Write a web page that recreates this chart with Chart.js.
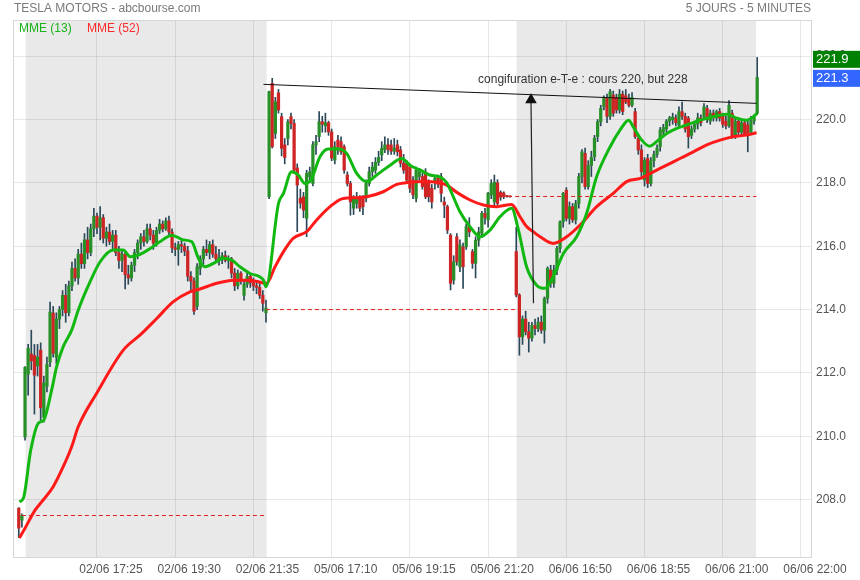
<!DOCTYPE html>
<html>
<head>
<meta charset="utf-8">
<script src="https://cdn.jsdelivr.net/npm/chart.js@4.4.0/dist/chart.umd.min.js"></script>
<style>
  html, body { margin: 0; padding: 0; background: #fff; }
  canvas { display: block; }
</style>
</head>
<body>
<canvas id="chart" width="860" height="580"></canvas>
<script>
// bar numbers: 0 = first 5 min bar of 02/06, one bar per 5 minutes
const tickBars = [23, 48, 73, 98, 123, 148, 173, 198, 223, 248];
const tickLabels = ['02/06 17:25', '02/06 19:30', '02/06 21:35', '05/06 17:10', '05/06 19:15',
                    '05/06 21:20', '06/06 16:50', '06/06 18:55', '06/06 21:00', '06/06 22:00'];
const yTicks = [208, 210, 212, 214, 216, 218, 220, 222];

// first bar number of each block of candles
const sessionStart = [-2, 0, 78, 157];

// candles: [open, high, low, close]
const prevDay = [
  [207.73, 207.75, 206.80, 207.10], [207.35, 207.55, 207.13, 207.50]
];
const day1 = [
  [209.98, 212.20, 209.88, 212.18], [211.96, 212.90, 211.30, 212.78], [212.60, 213.35, 212.10, 212.38],
  [212.55, 212.90, 210.70, 211.93], [212.22, 212.90, 211.90, 212.50], [212.72, 212.95, 210.50, 210.90],
  [210.60, 211.90, 210.45, 211.68], [211.58, 212.50, 211.40, 212.28], [212.34, 214.24, 212.20, 213.92],
  [213.89, 214.10, 212.50, 212.62], [212.50, 213.90, 212.30, 213.70], [213.70, 214.10, 213.40, 214.00],
  [214.00, 214.60, 213.80, 214.45], [214.45, 214.80, 213.60, 213.90], [213.90, 214.90, 213.80, 214.75],
  [214.75, 215.50, 214.60, 215.30], [215.30, 215.60, 214.90, 215.00], [215.00, 215.90, 214.80, 215.75],
  [215.75, 216.10, 215.30, 215.45], [215.45, 216.40, 215.30, 216.20], [216.20, 216.60, 215.60, 215.80],
  [215.80, 216.70, 215.70, 216.55], [216.55, 217.20, 216.30, 216.95], [216.95, 217.05, 216.40, 216.60],
  [216.60, 217.25, 216.20, 216.90], [216.90, 217.00, 216.10, 216.25], [216.25, 216.60, 216.00, 216.45],
  [216.45, 216.70, 216.05, 216.15], [216.15, 216.50, 215.90, 216.35], [216.35, 216.50, 215.70, 215.80],
  [215.80, 216.00, 215.30, 215.55], [215.55, 215.90, 215.20, 215.75], [215.75, 215.85, 214.65, 215.10],
  [215.10, 215.40, 214.80, 215.00], [215.00, 215.50, 214.90, 215.40], [215.40, 215.90, 215.20, 215.80],
  [215.80, 216.20, 215.60, 216.10], [216.10, 216.40, 215.90, 216.30], [216.30, 216.50, 216.00, 216.15],
  [216.15, 216.70, 216.10, 216.55], [216.55, 216.70, 216.20, 216.35], [216.35, 216.50, 215.90, 216.10],
  [216.10, 216.60, 216.00, 216.50], [216.50, 216.85, 216.40, 216.70], [216.70, 216.80, 216.45, 216.55],
  [216.55, 216.90, 216.50, 216.80], [216.80, 216.95, 216.30, 216.45], [216.45, 216.55, 215.80, 215.95],
  [215.95, 216.10, 215.70, 215.90], [215.90, 216.15, 215.40, 216.05], [216.05, 216.20, 215.80, 216.00],
  [216.00, 216.10, 215.70, 215.85], [215.85, 216.00, 214.90, 215.05], [215.05, 215.20, 214.60, 214.90],
  [214.90, 215.00, 213.85, 213.95], [214.10, 215.45, 214.00, 215.35], [215.30, 215.70, 215.10, 215.60],
  [215.60, 216.00, 215.40, 215.90], [215.90, 216.20, 215.70, 215.80], [215.80, 216.15, 215.60, 216.05],
  [216.05, 216.20, 215.65, 215.75], [215.75, 216.00, 215.50, 215.60], [215.60, 215.90, 215.40, 215.65],
  [215.65, 215.80, 215.45, 215.70], [215.70, 215.85, 215.50, 215.55], [215.55, 215.70, 215.30, 215.60],
  [215.60, 215.65, 215.00, 215.15], [215.15, 215.30, 214.60, 214.75], [214.75, 215.25, 214.65, 215.15],
  [215.15, 215.20, 214.80, 214.90], [214.45, 214.90, 214.30, 214.80], [214.80, 215.20, 214.70, 215.05],
  [215.05, 215.15, 214.70, 214.85], [214.85, 215.00, 214.60, 214.75], [214.75, 214.90, 214.50, 214.70],
  [214.70, 214.85, 214.35, 214.45], [214.45, 214.60, 213.95, 214.20], [213.90, 214.30, 213.60, 214.05]
];
const day2 = [
  [217.56, 220.90, 217.50, 220.88], [221.14, 221.30, 219.10, 219.14], [219.56, 220.70, 219.40, 220.56],
  [220.84, 220.95, 220.20, 220.30], [220.09, 220.20, 218.85, 219.09], [219.20, 219.40, 218.60, 218.80],
  [219.40, 220.00, 219.20, 219.93], [220.09, 220.20, 219.70, 219.88], [219.88, 220.00, 218.30, 218.40],
  [218.47, 218.60, 216.46, 217.93], [217.52, 217.80, 217.20, 217.36], [217.56, 217.70, 216.90, 217.14],
  [216.88, 218.40, 216.30, 218.30], [218.20, 218.50, 218.00, 218.35], [217.98, 219.30, 217.90, 219.20],
  [219.20, 219.50, 218.90, 219.30], [219.46, 220.25, 219.30, 219.93], [219.93, 220.10, 219.60, 219.85],
  [219.80, 220.20, 219.60, 219.90], [219.90, 219.95, 219.50, 219.61], [219.61, 219.70, 218.70, 218.78],
  [218.72, 219.30, 218.60, 219.14], [219.35, 219.50, 218.90, 219.14], [219.30, 219.45, 218.90, 218.98],
  [219.14, 219.20, 218.30, 218.40], [218.25, 218.35, 217.90, 217.98], [217.98, 218.05, 216.98, 217.40],
  [217.20, 217.60, 217.00, 217.52], [217.35, 217.70, 217.20, 217.50], [217.52, 217.60, 217.10, 217.20],
  [217.50, 217.60, 217.00, 217.25], [217.52, 218.10, 217.40, 217.98], [217.98, 218.50, 217.90, 218.35],
  [218.35, 218.65, 218.20, 218.50], [218.40, 218.80, 218.30, 218.65], [218.65, 219.00, 218.55, 218.80],
  [218.88, 219.30, 218.70, 219.09], [219.05, 219.45, 218.95, 219.20], [219.20, 219.40, 218.90, 219.05],
  [219.20, 219.35, 218.90, 219.00], [219.00, 219.40, 218.90, 219.10], [219.20, 219.35, 218.85, 218.98],
  [219.04, 219.15, 218.50, 218.62], [218.62, 218.90, 218.30, 218.40], [218.62, 218.70, 218.00, 218.09],
  [218.51, 218.60, 217.70, 217.83], [218.09, 218.20, 217.50, 217.62], [217.51, 218.50, 217.40, 218.40],
  [218.20, 218.45, 218.10, 218.35], [218.20, 218.30, 217.80, 217.88], [218.35, 218.45, 217.50, 217.56],
  [218.00, 218.10, 217.40, 217.56], [217.83, 217.95, 217.20, 217.40], [218.05, 218.20, 217.80, 218.15],
  [218.15, 218.25, 217.85, 217.95], [218.20, 218.30, 217.40, 217.67], [217.40, 217.55, 216.90, 217.30],
  [217.25, 217.30, 216.40, 216.51], [216.35, 216.40, 214.62, 214.83], [214.93, 215.70, 214.80, 215.51],
  [216.30, 216.40, 215.40, 215.51], [215.35, 216.20, 215.20, 216.04], [215.98, 216.10, 214.67, 215.35],
  [215.98, 216.70, 215.90, 216.62], [216.62, 216.90, 216.30, 216.45], [215.83, 215.90, 215.30, 215.46],
  [215.46, 216.30, 215.00, 216.19], [216.19, 216.60, 216.00, 216.45], [216.41, 217.10, 216.30, 217.04],
  [217.04, 217.20, 216.70, 216.90], [216.83, 217.70, 216.60, 217.67], [217.62, 218.10, 217.50, 217.98],
  [217.40, 218.25, 217.30, 218.02], [218.00, 218.10, 217.30, 217.35], [217.70, 217.75, 217.45, 217.55],
  [217.68, 217.72, 217.50, 217.56], [217.58, 217.60, 217.55, 217.57], [217.57, 217.58, 217.55, 217.56]
];
const day3 = [
  [215.83, 216.60, 214.40, 214.46], [214.46, 214.50, 212.56, 213.14], [213.14, 213.80, 212.90, 213.70],
  [213.70, 213.95, 213.20, 213.30], [213.30, 213.60, 212.66, 213.10], [213.10, 213.60, 213.00, 213.50],
  [213.50, 213.70, 213.20, 213.40], [213.40, 213.75, 213.30, 213.60], [213.60, 213.80, 213.25, 213.35],
  [213.35, 214.40, 212.94, 214.35], [214.35, 215.35, 214.20, 215.30], [215.25, 215.40, 214.70, 214.83],
  [214.83, 215.40, 214.70, 215.25], [215.25, 216.00, 215.10, 215.93], [215.93, 216.80, 215.80, 216.77],
  [216.77, 217.70, 216.60, 217.67], [217.77, 217.85, 216.80, 216.88], [216.88, 217.40, 216.70, 217.25],
  [217.25, 217.35, 216.75, 216.83], [216.83, 217.45, 216.70, 217.35], [217.35, 218.30, 217.20, 218.20],
  [218.20, 219.05, 218.00, 218.98], [218.93, 219.10, 217.80, 217.88], [217.88, 218.70, 217.80, 218.55],
  [218.55, 219.00, 218.20, 218.80], [218.83, 219.50, 218.70, 219.41], [219.46, 220.00, 219.30, 219.93],
  [219.93, 220.45, 219.80, 220.35], [220.40, 220.75, 220.30, 220.67], [220.67, 220.80, 219.90, 220.10],
  [220.10, 220.95, 220.00, 220.88], [220.77, 220.90, 220.10, 220.20], [220.70, 220.80, 220.20, 220.30],
  [220.30, 220.95, 220.20, 220.80], [220.80, 220.90, 220.15, 220.25], [220.75, 220.95, 220.50, 220.55],
  [220.65, 220.80, 220.40, 220.45], [220.45, 220.85, 220.40, 220.70], [220.25, 220.35, 219.40, 219.46],
  [219.41, 219.50, 218.90, 219.04], [219.04, 219.20, 218.20, 218.35], [218.09, 218.80, 217.90, 218.72],
  [218.77, 218.90, 217.85, 217.98], [217.98, 218.80, 217.90, 218.70], [218.70, 219.00, 218.50, 218.90],
  [218.90, 219.20, 218.80, 219.10], [219.14, 219.75, 219.00, 219.67], [219.60, 219.85, 219.50, 219.75],
  [219.70, 220.00, 219.60, 219.95], [219.95, 220.10, 219.80, 220.05], [220.00, 220.20, 219.85, 220.08],
  [220.05, 220.15, 219.80, 219.90], [219.83, 220.40, 219.75, 220.25], [220.25, 220.55, 220.00, 220.10],
  [220.10, 220.20, 219.60, 219.70], [220.04, 220.10, 219.10, 219.46], [219.50, 219.80, 219.40, 219.70],
  [219.70, 219.95, 219.60, 219.85], [219.85, 220.20, 219.70, 220.05], [220.05, 220.15, 219.80, 219.90],
  [220.09, 220.50, 220.00, 220.40], [220.35, 220.45, 219.90, 220.00], [219.95, 220.30, 219.85, 220.20],
  [220.20, 220.30, 219.95, 220.05], [220.05, 220.30, 219.95, 220.25], [220.25, 220.35, 219.95, 220.05],
  [220.10, 220.20, 219.75, 219.85], [219.95, 220.10, 219.70, 219.80], [219.80, 220.60, 219.75, 220.45],
  [220.20, 220.30, 219.40, 219.45], [219.45, 220.05, 219.40, 219.95], [219.95, 220.05, 219.50, 219.60],
  [219.60, 220.00, 219.50, 219.90], [219.90, 220.00, 219.50, 219.55], [219.83, 219.95, 218.98, 219.56],
  [219.60, 220.10, 219.55, 219.95], [219.95, 220.15, 219.85, 220.09], [220.20, 221.96, 220.15, 221.33]
];

// shaded sessions (02/06 and 06/06), in bar numbers
const shadeFrom = [0.2, 157.1];
const shadeTo = [77.2, 233.6];

// previous close levels (dashed)
const refLevel = [207.5, 214.0, 217.57];
const refFrom = [-1, 77, 154.4];
const refTo = [77.2, 157.1, 233.8];

// moving averages
const mme13Bars = [-1.8, -0.5, 1.8, 4.3, 5.9, 8.5, 10.1, 12.2, 14.9, 17, 20.8, 24, 28.2, 31.4, 33.6, 36.2,
  40, 43.1, 46.9, 50.6, 53.3, 55.4, 57.5, 60.2, 63.4, 66.1, 68.7, 71.9, 76.2, 77, 81, 82.6, 85.2, 87.3,
  89.5, 91.6, 94.3, 96.9, 100.1, 102.8, 106, 109.2, 112.4, 116.7, 120.4, 123, 126.2, 129.4, 132.6, 134.8,
  136.4, 139, 142.2, 145.4, 148.6, 151.8, 155.5, 157.7, 160.3, 163.5, 166.2, 168.8, 172.1, 176.3, 179.5,
  182.7, 187, 190.2, 192.9, 194.4, 197.1, 199.7, 202.4, 205.1, 208.3, 211.5, 215.7, 220, 224.3, 227.5,
  230.6, 232.8, 233.9];
const mme13 = [207.93, 208.05, 209.55, 210.42, 210.5, 211.46, 212.2, 212.83, 213.35, 213.98, 214.88,
  215.51, 215.88, 215.88, 215.67, 215.72, 215.93, 216.14, 216.35, 216.2, 216.14, 215.62, 215.35, 215.46,
  215.62, 215.56, 215.35, 215.14, 214.93, 214.72, 217.35, 217.67, 218.35, 218.25, 217.98, 218.14, 218.83,
  219.07, 219.07, 218.93, 218.3, 218.04, 218.25, 218.56, 218.77, 218.56, 218.41, 218.25, 218.19, 218.0,
  217.67, 217.09, 216.62, 216.3, 216.51, 216.93, 217.2, 216.51, 215.35, 214.77, 214.67, 215.04, 215.78,
  216.3, 217.04, 218.2, 219.14, 219.67, 219.98, 219.77, 219.35, 219.16, 219.35, 219.56, 219.72, 219.83,
  219.98, 220.09, 220.17, 220.04, 219.98, 220.09, 220.2];
const mme52Bars = [-1.8, 0, 3.2, 5.8, 9, 12.2, 14.9, 17, 22.9, 31.4, 36.8, 42.1, 47.4, 52.7, 55.9, 61.3,
  66.6, 71.9, 77.2, 79.9, 82.6, 85.7, 90, 93.2, 97.5, 101.7, 106, 109.2, 114.5, 118.8, 123, 127.3, 131.6,
  134.8, 138, 142.2, 146.5, 150.7, 155.5, 158.2, 160.3, 162.4, 164.6, 168.8, 173.1, 177.4, 182.7, 188,
  192.3, 196.6, 200.8, 205.1, 209.3, 213.6, 217.9, 222.1, 226.4, 230.6, 233.8];
const mme52 = [206.79, 207.1, 207.67, 207.99, 208.41, 209.04, 209.67, 210.3, 211.36, 212.72, 213.2,
  213.72, 214.25, 214.56, 214.65, 214.83, 214.93, 214.93, 214.83, 215.35, 215.83, 216.25, 216.46, 216.83,
  217.25, 217.51, 217.53, 217.56, 217.72, 217.95, 218.02, 218.04, 218.02, 217.93, 217.7, 217.46, 217.3,
  217.25, 217.32, 216.93, 216.62, 216.46, 216.3, 216.09, 216.3, 216.67, 217.25, 217.67, 218.04, 218.14,
  218.35, 218.56, 218.77, 218.98, 219.2, 219.35, 219.46, 219.51, 219.58];

// hand drawn resistance line and target arrow
const trendBars = [76.2, 233.8];
const trendVals = [221.11, 220.51];
const arrowBars = [162.5, 161.7];
const arrowVals = [214.2, 220.62];
const noteText = 'congifuration e-T-e : cours 220, but 228';
const noteBar = 144.8;
const noteVal = 221.25;

const lastHigh = 221.9;
const lastClose = 221.3;

const GREEN = '#279127';
const RED = '#cf2424';
const WICK = '#2a4858';

Chart.defaults.font.family = '"Liberation Sans", Arial, sans-serif';
Chart.defaults.font.size = 12;

const candles = [];
[prevDay, day1, day2, day3].forEach((rows, d) => {
  rows.forEach((r, k) => {
    candles.push({ x: sessionStart[d] + k, o: r[0], h: r[1], l: r[2], c: r[3] });
  });
});

const pts = (xs, ys) => xs.map((x, i) => ({ x: x, y: ys[i] }));

const datasets = [
  {
    type: 'bar', label: 'wick', grouped: false, order: 6,
    data: candles.map(c => ({ x: c.x, y: [c.l, c.h] })),
    backgroundColor: WICK, barThickness: 1, minBarLength: 1
  },
  {
    type: 'bar', label: 'body', grouped: false, order: 5,
    data: candles.map(c => ({ x: c.x, y: [c.o, c.c] })),
    backgroundColor: candles.map(c => c.c >= c.o ? GREEN : RED),
    barThickness: 2.6, minBarLength: 1
  }
];

refLevel.forEach((v, k) => {
  datasets.push({
    type: 'line', order: 4, data: pts([refFrom[k], refTo[k]], [v, v]),
    borderColor: '#e02020', borderWidth: 1, borderDash: [4, 3], pointRadius: 0
  });
});

datasets.push(
  {
    type: 'line', label: 'MME (52)', order: 3, data: pts(mme52Bars, mme52),
    borderColor: '#ff1a1a', borderWidth: 3, pointRadius: 0, cubicInterpolationMode: 'monotone'
  },
  {
    type: 'line', label: 'MME (13)', order: 2, data: pts(mme13Bars, mme13),
    borderColor: '#12b812', borderWidth: 3, pointRadius: 0, cubicInterpolationMode: 'monotone'
  },
  {
    type: 'line', order: 1, data: pts(trendBars, trendVals),
    borderColor: '#111', borderWidth: 1, pointRadius: 0
  },
  {
    type: 'line', order: 0, data: pts(arrowBars, arrowVals),
    borderColor: '#222', borderWidth: 1.2,
    pointRadius: [0, 5.5], pointStyle: 'triangle', pointBackgroundColor: '#111', pointBorderColor: '#111'
  }
);

const decor = {
  id: 'decor',
  beforeDraw(chart) {
    const { ctx, chartArea: a, scales: { x } } = chart;
    ctx.save();
    ctx.fillStyle = '#e9e9e9';
    shadeFrom.forEach((f, k) => {
      const x0 = x.getPixelForValue(f);
      const x1 = x.getPixelForValue(shadeTo[k]);
      ctx.fillRect(x0, a.top, x1 - x0, a.bottom - a.top);
    });
    ctx.restore();
  },
  beforeDatasetsDraw(chart) {
    const { ctx, chartArea: a } = chart;
    ctx.save();
    ctx.strokeStyle = '#d6d6d6';
    ctx.lineWidth = 1;
    ctx.strokeRect(a.left - 0.5, a.top - 0.5, a.right - a.left + 1, a.bottom - a.top + 1);
    ctx.restore();
  },
  afterDraw(chart) {
    const { ctx, chartArea: a, scales: { x, y } } = chart;
    ctx.save();
    ctx.font = '12px "Liberation Sans", Arial, sans-serif';
    ctx.textBaseline = 'middle';

    ctx.fillStyle = '#7a7a7a';
    ctx.textAlign = 'left';
    ctx.fillText('TESLA MOTORS - abcbourse.com', a.left, 9);
    ctx.textAlign = 'right';
    ctx.fillText('5 JOURS - 5 MINUTES', a.right, 9);

    ctx.textAlign = 'left';
    ctx.fillStyle = '#18b418';
    ctx.fillText('MME (13)', a.left + 5, 29);
    ctx.fillStyle = '#ff2a2a';
    ctx.fillText('MME (52)', a.left + 73, 29);

    ctx.fillStyle = '#333';
    ctx.fillText(noteText, x.getPixelForValue(noteBar), y.getPixelForValue(noteVal));

    ctx.font = '13px "Liberation Sans", Arial, sans-serif';
    [[lastHigh, '#008000'], [lastClose, '#3366ff']].forEach(([v, col]) => {
      const py = y.getPixelForValue(v);
      ctx.fillStyle = col;
      ctx.fillRect(a.right + 2, py - 8.5, 860 - a.right - 2, 17);
      ctx.fillStyle = '#fff';
      ctx.fillText(v.toFixed(1), a.right + 5, py + 0.5);
    });
    ctx.restore();
  }
};

new Chart(document.getElementById('chart'), {
  type: 'bar',
  data: { datasets: datasets },
  options: {
    responsive: false,
    animation: false,
    devicePixelRatio: 1,
    layout: { padding: { left: 14, top: 21, right: 0, bottom: 0 } },
    plugins: { legend: { display: false }, tooltip: { enabled: false } },
    scales: {
      x: {
        type: 'linear', offset: false, min: -3.527, max: 251.2,
        afterBuildTicks: s => { s.ticks = tickBars.map(v => ({ value: v })); },
        afterFit: s => { s.height = 23; },
        grid: { offset: false, color: 'rgba(0,0,0,0.09)', drawTicks: false },
        border: { color: '#d6d6d6' },
        ticks: {
          autoSkip: false, maxRotation: 0, minRotation: 0, padding: 5, labelOffset: 14,
          color: '#555', callback: (v, i) => tickLabels[i]
        }
      },
      y: {
        type: 'linear', position: 'right', min: 206.19, max: 223.11,
        afterBuildTicks: s => { s.ticks = yTicks.map(v => ({ value: v })); },
        afterFit: s => { s.width = 49; },
        grid: { color: 'rgba(0,0,0,0.09)', drawTicks: false },
        border: { color: '#d6d6d6' },
        ticks: { padding: 5, color: '#555', callback: v => v.toFixed(1) }
      }
    }
  },
  plugins: [decor]
});
</script>
</body>
</html>
